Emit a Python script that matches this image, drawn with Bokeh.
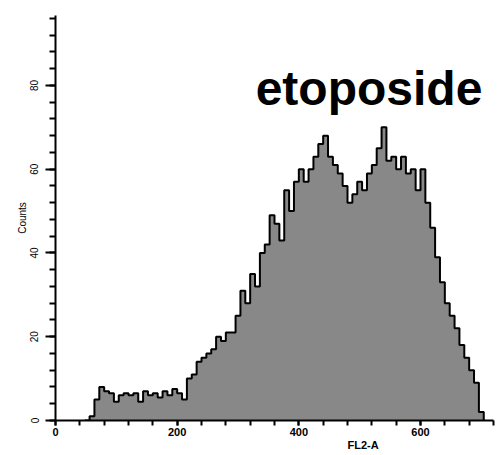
from bokeh.plotting import figure
from bokeh.models import Range1d, SingleIntervalTicker, Label, Title
from bokeh.embed import file_html
from bokeh.resources import INLINE

# FL2-A channel bins (left edges, width 8) and counts
bin_left = list(range(56, 704, 8))
counts = [1, 5, 8, 7, 6.5, 4.5, 6, 6.5, 6, 6.5,
          4.5, 7, 6, 6.5, 5.5, 7, 6, 7.5, 6.5, 5,
          10, 11, 14, 15, 16, 17, 20, 19, 21, 21,
          25, 31, 28, 35, 32, 40, 42, 49, 47, 43,
          55, 50, 57, 60, 57, 60, 63, 66, 68, 63,
          61, 59, 56, 52, 54, 57, 55, 59, 61, 65,
          70, 62, 63, 60, 63, 59, 60, 55, 60, 52,
          46, 39, 33, 28, 25, 22, 18, 15, 12, 9,
          2]
bin_width = 8
assert len(bin_left) == len(counts)

x_ticks_major = 200
y_ticks_major = 20
title_text = "etoposide"
x_label = "FL2-A"
y_label = "Counts"

p = figure(width=503, height=452, output_backend="svg", toolbar_location=None,
           x_range=Range1d(0, 720), y_range=Range1d(0, 96.7),
           min_border_left=55, min_border_right=10, min_border_top=15,
           min_border_bottom=10)
p.outline_line_color = None
p.xgrid.visible = False
p.ygrid.visible = False
p.background_fill_color = "white"
p.border_fill_color = "white"

rights = [b + bin_width for b in bin_left]
sx = [bin_left[0] - bin_width] + bin_left + [rights[-1]]
sy = [0] + counts + [0]
p.varea_step(x=sx, y1=[0] * len(sx), y2=sy, step_mode="after",
             fill_color="#888888")
p.step(x=sx, y=sy, mode="after", line_color="black", line_width=2)

# axes
p.xaxis.ticker = SingleIntervalTicker(interval=x_ticks_major, num_minor_ticks=5)
p.yaxis.ticker = SingleIntervalTicker(interval=y_ticks_major, num_minor_ticks=5)
for ax in (p.xaxis, p.yaxis):
    ax.axis_line_color = "black"
    ax.axis_line_width = 2
    ax.major_tick_line_color = "black"
    ax.minor_tick_line_color = "black"
    ax.major_tick_line_width = 2
    ax.minor_tick_line_width = 2
    ax.major_tick_in = 0
    ax.minor_tick_in = 0
    ax.major_label_text_color = "black"
    ax.axis_label_text_color = "black"
    ax.major_label_text_font = "Liberation Sans"
    ax.axis_label_text_font = "Liberation Sans"

p.xaxis.major_tick_out = 5
p.xaxis.minor_tick_out = 5
p.xaxis.major_label_text_font_size = "11px"
p.xaxis.major_label_text_font_style = "bold"
p.xaxis.major_label_standoff = 2

p.yaxis.major_tick_out = 10
p.yaxis.minor_tick_out = 6
p.yaxis.major_label_orientation = "vertical"
p.yaxis.major_label_text_font_size = "10px"
p.yaxis.major_label_standoff = 7
p.yaxis.axis_label = y_label
p.yaxis.axis_label_text_font_size = "10px"
p.yaxis.axis_label_text_font_style = "normal"
p.yaxis.axis_label_standoff = 0

p.add_layout(Title(text=x_label, align="left", offset=292, standoff=0,
                   vertical_align="top", text_line_height=1.0,
                   text_font="Liberation Sans", text_font_style="bold",
                   text_font_size="11px", text_color="black"), "below")

p.add_layout(Label(x=329, y=79.3, text=title_text, text_align="left",
                   text_baseline="alphabetic", text_font="Liberation Sans",
                   text_font_style="bold", text_font_size="48px",
                   text_color="black"))

open("out.html", "w").write(file_html(p, INLINE))
